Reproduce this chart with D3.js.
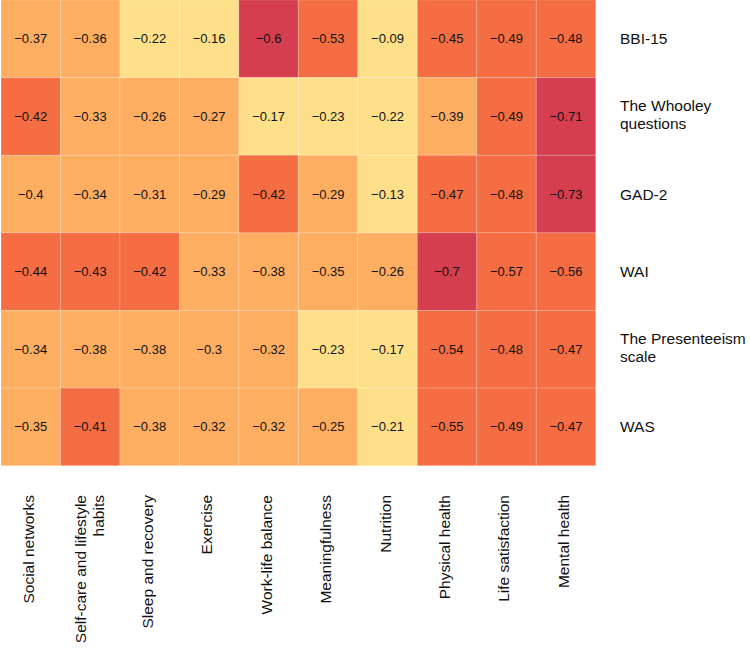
<!DOCTYPE html>
<html>
<head>
<meta charset="utf-8">
<script src="https://cdn.jsdelivr.net/npm/d3@7"></script>
<style>
  html, body { margin: 0; padding: 0; background: #ffffff; }
  svg { display: block; font-family: "Liberation Sans", Arial, Helvetica, sans-serif; }
</style>
</head>
<body>
<svg id="chart" width="750" height="648"></svg>
<script>
const columns = ["Social networks", "Self-care and lifestyle\nhabits", "Sleep and recovery", "Exercise",
  "Work-life balance", "Meaningfulness", "Nutrition", "Physical health", "Life satisfaction", "Mental health"];
const rows = ["BBI-15", "The Whooley\nquestions", "GAD-2", "WAI", "The Presenteeism\nscale", "WAS"];

const bbi15        = [-0.37, -0.36, -0.22, -0.16, -0.6,  -0.53, -0.09, -0.45, -0.49, -0.48];
const whooley      = [-0.42, -0.33, -0.26, -0.27, -0.17, -0.23, -0.22, -0.39, -0.49, -0.71];
const gad2         = [-0.4,  -0.34, -0.31, -0.29, -0.42, -0.29, -0.13, -0.47, -0.48, -0.73];
const wai          = [-0.44, -0.43, -0.42, -0.33, -0.38, -0.35, -0.26, -0.7,  -0.57, -0.56];
const presenteeism = [-0.34, -0.38, -0.38, -0.3,  -0.32, -0.23, -0.17, -0.54, -0.48, -0.47];
const was          = [-0.35, -0.41, -0.38, -0.32, -0.32, -0.25, -0.21, -0.55, -0.49, -0.47];

const colorBreaks = [-0.595, -0.405, -0.245];
const colorRange = ["#d53e4f", "#f46d43", "#fdae61", "#fee08b"];

const matrix = [bbi15, whooley, gad2, wai, presenteeism, was];
const cells = [];
matrix.forEach((vals, ri) => vals.forEach((v, ci) => cells.push({row: rows[ri], col: columns[ci], value: v})));

const svg = d3.select("#chart");
const gridLeft = 1, gridTop = 0, gridW = 594.7, gridH = 465.7;

const x = d3.scaleBand().domain(columns).range([gridLeft, gridLeft + gridW]).padding(0);
const y = d3.scaleBand().domain(rows).range([gridTop, gridTop + gridH]).padding(0);
const color = d3.scaleThreshold().domain(colorBreaks).range(colorRange);
const fmt = d3.format("");

const g = svg.append("g");
g.selectAll("rect.cell").data(cells).join("rect")
  .attr("class", "cell")
  .attr("x", d => x(d.col))
  .attr("y", d => y(d.row))
  .attr("width", x.bandwidth())
  .attr("height", y.bandwidth())
  .attr("fill", d => color(d.value))
  .attr("stroke", "rgba(255,255,255,0.18)")
  .attr("stroke-width", 1);

g.selectAll("text.val").data(cells).join("text")
  .attr("class", "val")
  .attr("x", d => x(d.col) + x.bandwidth() / 2)
  .attr("y", d => y(d.row) + y.bandwidth() / 2 + 4.6)
  .attr("text-anchor", "middle")
  .attr("font-size", "13px")
  .attr("fill", "#111")
  .text(d => fmt(d.value));

// Row labels (right side)
const rowG = svg.append("g");
rows.forEach(r => {
  const lines = r.split("\n");
  const cy = y(r) + y.bandwidth() / 2;
  const t = rowG.append("text")
    .attr("font-size", "15.5px")
    .attr("fill", "#111")
    .attr("text-anchor", "start");
  const offsets = lines.length === 1 ? [5.5] : [-5, 13];
  lines.forEach((ln, i) => {
    t.append("tspan").attr("x", 620).attr("y", cy + offsets[i]).text(ln);
  });
});

// Column labels (bottom, rotated)
const colG = svg.append("g");
columns.forEach(c => {
  const lines = c.split("\n");
  const cx = x(c) + x.bandwidth() / 2;
  const offsets = lines.length === 1 ? [3] : [-4, 14];
  lines.forEach((ln, i) => {
    colG.append("text")
      .attr("font-size", "15.5px")
      .attr("fill", "#111")
      .attr("text-anchor", "end")
      .attr("transform", `translate(${cx + offsets[i]},495) rotate(-90)`)
      .text(ln);
  });
});
</script>
</body>
</html>
